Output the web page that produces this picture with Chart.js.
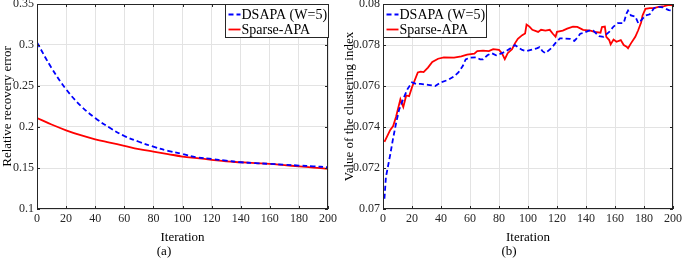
<!DOCTYPE html>
<html>
<head>
<meta charset="utf-8">
<script src="https://cdn.jsdelivr.net/npm/chart.js@4.4.1/dist/chart.umd.min.js"></script>
<style>
  body { margin: 0; background: #fff; }
  #wrap { position: relative; width: 685px; height: 259px; }
  canvas { position: absolute; top: 0; }
  #chartA { left: 0; }
  #chartB { left: 342px; }
</style>
</head>
<body>
<div id="wrap">
  <canvas id="chartA" width="342" height="259"></canvas>
  <canvas id="chartB" width="343" height="259"></canvas>
</div>
<script>
// ---- data, panel (a) ----
const iterA = [0, 10, 20, 30, 40, 50, 60, 70, 80, 90, 100, 110, 120, 130, 140, 150, 160, 170, 180, 190, 200];
const dsapaA = [0.303, 0.272, 0.246, 0.226, 0.211, 0.199, 0.189, 0.182, 0.176, 0.171, 0.167, 0.163, 0.161, 0.159, 0.157, 0.156, 0.155, 0.154, 0.153, 0.152, 0.151];
const sparseA = [0.211, 0.203, 0.196, 0.190, 0.185, 0.181, 0.177, 0.173, 0.170, 0.167, 0.164, 0.162, 0.160, 0.158, 0.157, 0.156, 0.155, 0.1535, 0.152, 0.1505, 0.149];
const yTicksA = [0.1, 0.15, 0.2, 0.25, 0.3, 0.35];
const yLabelsA = ['0.1', '0.15', '0.2', '0.25', '0.3', '0.35'];

// ---- data, panel (b) ----
const dsapaIterB = [1, 2, 5, 7, 9, 11, 14, 17, 20, 23, 26, 31, 36, 40, 45, 49, 52, 55, 57, 60, 64, 67, 69, 72, 75, 78, 82, 85, 89, 91, 93, 96, 99, 102, 106, 108, 110, 112, 116, 119, 122, 125, 129, 132, 134, 136, 138, 142, 145, 149, 152, 156, 159, 162, 166, 168, 169, 171, 174, 176, 178, 181, 184, 187, 190, 193, 197, 200];
const dsapaB = [0.0705, 0.07155, 0.07266, 0.07346, 0.07418, 0.07482, 0.07538, 0.07586, 0.07618, 0.0761, 0.0761, 0.07606, 0.0760, 0.07618, 0.0763, 0.07647, 0.07666, 0.07697, 0.0773, 0.07738, 0.0774, 0.0773, 0.0773, 0.0775, 0.0776, 0.0775, 0.0776, 0.0777, 0.0779, 0.0780, 0.0779, 0.07776, 0.0777, 0.07776, 0.07784, 0.0779, 0.0777, 0.0776, 0.07784, 0.0781, 0.07832, 0.07832, 0.0783, 0.0782, 0.07835, 0.07855, 0.07858, 0.0787, 0.0787, 0.07843, 0.0784, 0.07864, 0.0789, 0.07907, 0.07907, 0.07955, 0.07968, 0.07944, 0.07939, 0.07907, 0.0792, 0.07944, 0.0795, 0.0798, 0.07986, 0.07984, 0.0797, 0.07968];
const sparseIterB = [1, 5, 7, 9, 12, 14, 16, 18, 20, 24, 26, 28, 31, 34, 38, 42, 49, 54, 58, 63, 65, 69, 73, 76, 80, 82, 84, 86, 89, 91, 93, 96, 98, 99, 101, 103, 107, 109, 112, 115, 117, 119, 120, 124, 127, 131, 134, 138, 143, 146, 150, 151, 153, 154, 156, 157, 159, 161, 164, 166, 168, 169, 171, 174, 176, 178, 179, 181, 184, 187, 190, 194, 197, 200];
const sparseB = [0.07327, 0.07386, 0.07405, 0.0745, 0.07535, 0.07498, 0.07554, 0.0755, 0.07594, 0.07666, 0.0767, 0.07668, 0.0769, 0.07717, 0.07733, 0.0774, 0.07738, 0.07745, 0.07753, 0.07758, 0.0777, 0.07773, 0.0777, 0.0778, 0.07776, 0.0776, 0.07731, 0.0776, 0.0778, 0.07808, 0.0783, 0.07848, 0.07856, 0.0790, 0.0789, 0.07874, 0.07864, 0.07874, 0.0787, 0.07874, 0.07856, 0.0784, 0.07864, 0.0787, 0.0788, 0.0789, 0.07888, 0.07874, 0.0787, 0.07864, 0.0786, 0.07888, 0.0789, 0.0784, 0.07824, 0.07803, 0.07827, 0.07816, 0.07824, 0.0780, 0.07792, 0.07784, 0.07808, 0.0784, 0.07872, 0.0791, 0.07944, 0.07976, 0.0798, 0.0798, 0.07986, 0.0799, 0.07996, 0.07994];
const yTicksB = [0.07, 0.072, 0.074, 0.076, 0.078, 0.08];
const yLabelsB = ['0.07', '0.072', '0.074', '0.076', '0.078', '0.08'];

const xTicks = [0, 20, 40, 60, 80, 100, 120, 140, 160, 180, 200];
const seriesNames = ['DSAPA (W=5)', 'Sparse-APA'];

const FONT = "'Liberation Serif', 'DejaVu Serif', serif";
const BLUE = '#0000ff';
const RED = '#ff0000';

function pts(xs, ys) {
  return xs.map((x, i) => ({ x: x, y: ys[i] }));
}

// box around the axes, inward ticks and the legend inside the plot
const matlabBox = {
  id: 'matlabBox',
  afterDraw(chart, args, opts) {
    const { ctx, chartArea: a, scales } = chart;
    ctx.save();
    ctx.strokeStyle = '#262626';
    ctx.lineWidth = 1;
    ctx.strokeRect(Math.round(a.left) + 0.5, Math.round(a.top) + 0.5,
      Math.round(a.right - a.left) - 1, Math.round(a.bottom - a.top) - 1);
    ctx.beginPath();
    scales.x.ticks.forEach(t => {
      const px = Math.round(scales.x.getPixelForValue(t.value)) + 0.5;
      ctx.moveTo(px, a.bottom); ctx.lineTo(px, a.bottom - 3);
      ctx.moveTo(px, a.top); ctx.lineTo(px, a.top + 3);
    });
    scales.y.ticks.forEach(t => {
      const py = Math.round(scales.y.getPixelForValue(t.value)) + 0.5;
      ctx.moveTo(a.left, py); ctx.lineTo(a.left + 3, py);
      ctx.moveTo(a.right, py); ctx.lineTo(a.right - 3, py);
    });
    ctx.stroke();

    // legend
    const w = opts.width, h = 33;
    const x0 = Math.round(opts.side === 'left' ? a.left : a.right - w) + 0.5;
    const y0 = Math.round(a.top) + 0.5;
    ctx.fillStyle = '#fff';
    ctx.fillRect(x0, y0, w, h);
    ctx.strokeStyle = '#262626';
    ctx.strokeRect(x0, y0, w, h);
    ctx.font = '14px ' + FONT;
    ctx.textBaseline = 'middle';
    chart.data.datasets.forEach((ds, i) => {
      const yy = y0 + 10 + i * 15;
      ctx.beginPath();
      ctx.strokeStyle = ds.borderColor;
      ctx.lineWidth = 1.8;
      ctx.setLineDash(ds.borderDash || []);
      ctx.moveTo(x0 + 3, yy); ctx.lineTo(x0 + 15, yy);
      ctx.stroke();
      ctx.setLineDash([]);
      ctx.fillStyle = '#000';
      ctx.fillText(ds.label, x0 + 16, yy + 1);
    });
    ctx.restore();
  }
};

function makeChart(id, cfg) {
  return new Chart(document.getElementById(id), {
    type: 'line',
    data: {
      datasets: [{
        label: seriesNames[0],
        data: cfg.dsapa,
        borderColor: BLUE,
        borderWidth: 1.8,
        borderDash: [5, 3],
        pointRadius: 0,
        tension: cfg.tension,
        fill: false
      }, {
        label: seriesNames[1],
        data: cfg.sparse,
        borderColor: RED,
        borderWidth: 1.8,
        pointRadius: 0,
        tension: cfg.tension,
        fill: false
      }]
    },
    options: {
      responsive: false,
      animation: false,
      events: [],
      layout: { padding: { top: 0, right: cfg.padRight, left: 0, bottom: 1 } },
      plugins: {
        legend: { display: false },
        tooltip: { enabled: false },
        title: {
          display: true,
          text: cfg.caption,
          position: 'bottom',
          color: '#000',
          font: { family: FONT, size: 13, weight: 'normal', lineHeight: 1 },
          padding: { top: 0, bottom: 0 }
        },
        matlabBox: { side: cfg.legendSide, width: cfg.legendWidth }
      },
      scales: {
        x: {
          type: 'linear',
          min: 0,
          max: 200,
          afterBuildTicks: s => { s.ticks = xTicks.map(v => ({ value: v })); },
          ticks: {
            color: '#262626',
            font: { family: FONT, size: 12 },
            padding: 3,
            maxRotation: 0
          },
          grid: { color: '#e3e3e3', drawTicks: false },
          border: { display: false },
          title: {
            display: true,
            text: 'Iteration',
            color: '#000',
            font: { family: FONT, size: 13 },
            padding: { top: 0, bottom: 0 }
          }
        },
        y: {
          min: cfg.yTicks[0],
          max: cfg.yTicks[cfg.yTicks.length - 1],
          afterBuildTicks: s => { s.ticks = cfg.yTicks.map(v => ({ value: v })); },
          afterFit: s => { s.width = cfg.yWidth; s.paddingTop = 4; },
          ticks: {
            color: '#262626',
            font: { family: FONT, size: 12, lineHeight: 1 },
            padding: 3,
            callback: (v, i) => cfg.yLabels[i]
          },
          grid: { color: '#e3e3e3', drawTicks: false },
          border: { display: false },
          title: {
            display: true,
            text: cfg.yTitle,
            color: '#000',
            font: { family: FONT, size: 13 },
            padding: { top: 0, bottom: 1 }
          }
        }
      }
    },
    plugins: [matlabBox]
  });
}

makeChart('chartA', {
  dsapa: pts(iterA, dsapaA),
  sparse: pts(iterA, sparseA),
  tension: 0.4,
  yTicks: yTicksA,
  yLabels: yLabelsA,
  yTitle: 'Relative recovery error',
  yWidth: 37,
  padRight: 14,
  caption: '(a)',
  legendSide: 'right',
  legendWidth: 103
});

makeChart('chartB', {
  dsapa: pts(dsapaIterB, dsapaB),
  sparse: pts(sparseIterB, sparseB),
  tension: 0,
  yTicks: yTicksB,
  yLabels: yLabelsB,
  yTitle: 'Value of the clustering index',
  yWidth: 41,
  padRight: 9,
  caption: '(b)',
  legendSide: 'left',
  legendWidth: 103
});
</script>
</body>
</html>
